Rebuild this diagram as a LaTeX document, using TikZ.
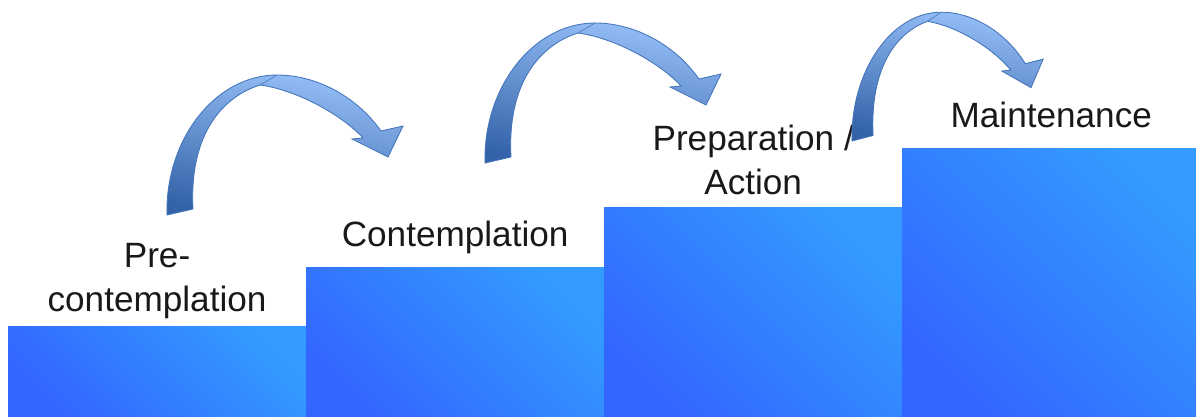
\documentclass[tikz,border=0pt]{standalone}
\usepackage{fontspec}
\setmainfont{Liberation Sans}
\usetikzlibrary{positioning}

\definecolor{blockdark}{RGB}{51,102,255}
\definecolor{blocklight}{RGB}{51,155,255}
\definecolor{arrowlight}{RGB}{150,192,248}
\definecolor{arrowdark}{RGB}{52,98,168}
\definecolor{arrowline}{RGB}{68,116,186}

\tikzset{
  stepblock/.style={rectangle, draw=none, inner sep=0pt, outer sep=0pt,
    minimum width=7.45cm, anchor=south west,
    bottom color=blockdark, top color=blocklight, shading angle=-45},
  stagetext/.style={align=center, inner sep=0pt, text=black!90,
    font=\fontsize{25}{31.5}\selectfont},
  jumparrow/.pic={
    \draw[arrowline, line width=0.6pt, bottom color=arrowdark,
      top color=arrowlight, shading angle=-10]
      (0,0) .. controls (-2,75) and (48,140) .. (110,140)
      .. controls (150,140) and (190,118) .. (214,84)
      -- (236,89) -- (221,58) -- (185,76) -- (196,77)
      .. controls (175,100) and (130,125) .. (93,130)
      .. controls (55,118) and (22,80) .. (26,6) -- cycle;
    \draw[arrowline, line width=0.4pt] (93,130) .. controls (100,134) .. (110,140);
  }
}

\begin{document}
\begin{tikzpicture}[x=0.025cm, y=0.025cm]
\useasboundingbox (0,0) rectangle (1196,416);

\node[stepblock, minimum height=2.325cm] (pre) at (8,-4) {};
\node[stepblock, minimum height=3.8cm] (contemp) at (pre.south east) {};
\node[stepblock, minimum height=5.3cm] (prep) at (contemp.south east) {};
\node[stepblock, minimum height=6.775cm] (maint) at (prep.south east) {};

\node[stagetext, above=5.4pt of pre] (pretext) {Pre-\\contemplation};
\node[stagetext, above=9.7pt of contemp] (contemptext) {Contemplation};
\node[stagetext, above=9pt of prep] (preptext) {Preparation /\\Action};
\node[stagetext, above=14.5pt of maint] (mainttext) {Maintenance};

\pic at (167,201) {jumparrow};
\pic at (485,253) {jumparrow};
\pic[xscale=0.81, yscale=0.92] at (852,275) {jumparrow};

\end{tikzpicture}
\end{document}
